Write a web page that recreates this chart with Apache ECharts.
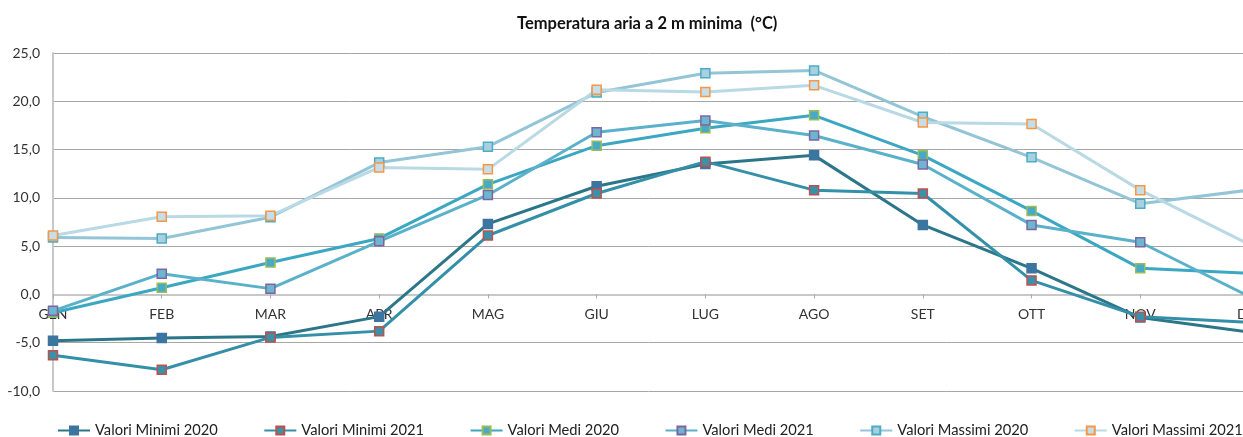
<!DOCTYPE html>
<html>
<head>
<meta charset="utf-8">
<script src="https://cdn.jsdelivr.net/npm/echarts@6/dist/echarts.min.js"></script>
<style>
html,body{margin:0;padding:0;background:#fff;}
#chart{width:1243px;height:437px;}
</style>
</head>
<body>
<div id="chart"></div>
<script>
const months = ['GEN','FEB','MAR','APR','MAG','GIU','LUG','AGO','SET','OTT','NOV','DIC'];
const minimi2020  = [-4.8, -4.5, -4.35, -2.3, 7.3, 11.2, 13.5, 14.4, 7.2, 2.7, -2.4, -3.9];
const minimi2021  = [-6.3, -7.8, -4.45, -3.8, 6.1, 10.45, 13.75, 10.8, 10.45, 1.45, -2.3, -2.9];
const medi2020    = [-1.9, 0.7, 3.3, 5.8, 11.4, 15.4, 17.2, 18.55, 14.4, 8.65, 2.7, 2.2];
const medi2021    = [-1.7, 2.15, 0.6, 5.5, 10.3, 16.8, 18.0, 16.45, 13.45, 7.2, 5.4, -0.2];
const massimi2020 = [5.9, 5.8, 8.0, 13.65, 15.3, 20.9, 22.9, 23.2, 18.4, 14.2, 9.4, 10.8];
const massimi2021 = [6.1, 8.05, 8.15, 13.15, 12.95, 21.2, 20.95, 21.65, 17.8, 17.65, 10.8, 5.2];
const seriesNames = ['Valori Minimi 2020','Valori Minimi 2021','Valori Medi 2020','Valori Medi 2021','Valori Massimi 2020','Valori Massimi 2021'];
const yTicks = {min: -10, max: 25, interval: 5};

const FONT = 'Lato, "Liberation Sans", sans-serif';
const styles = [
  {line:'#2c7689', fill:'#3a77a0', border:'#3f73a0'},
  {line:'#3490a8', fill:'#3792aa', border:'#c0504d'},
  {line:'#3ca7c2', fill:'#45abc6', border:'#9bbb59'},
  {line:'#5ab1ca', fill:'#6bb7d0', border:'#8064a2'},
  {line:'#93c5d7', fill:'#a8d0df', border:'#4bacc6'},
  {line:'#b9d9e4', fill:'#c6dee8', border:'#f79646'}
];
const datas = [minimi2020, minimi2021, medi2020, medi2021, massimi2020, massimi2021];

const GRID = {left: 53, top: 53, width: 1196, height: 338};
// place the category axis on the zero line of the value axis
const zeroOffset = -GRID.height * (0 - yTicks.min) / (yTicks.max - yTicks.min);

const chart = echarts.init(document.getElementById('chart'), null, {renderer:'canvas'});
chart.setOption({
  animation: false,
  backgroundColor: '#fff',
  title: {
    text: 'Temperatura aria a 2 m minima  (°C)',
    left: 512, top: 10,
    textStyle: {fontFamily: FONT, fontSize: 16.5, fontWeight: 'bold', color: '#111'}
  },
  legend: {
    top: 418,
    left: 52,
    width: 1190,
    padding: [5, 0, 5, 5],
    itemWidth: 32, itemHeight: 10, itemGap: 45.5,
    textStyle: {fontFamily: FONT, fontSize: 14.7, color: '#222'},
    data: seriesNames
  },
  grid: Object.assign({containLabel: false, outerBoundsMode: 'none'}, GRID),
  xAxis: {
    type: 'category',
    data: months,
    boundaryGap: false,
    offset: zeroOffset,
    axisLine: {onZero: false, lineStyle: {color: '#c8c8c8', width: 2}},
    axisTick: {show: true, length: 4, inside: false, lineStyle: {color: '#aaa'}},
    axisLabel: {fontFamily: FONT, fontSize: 14, color: '#333', margin: 13, interval: 0},
    splitLine: {show: false}
  },
  yAxis: {
    type: 'value',
    min: yTicks.min, max: yTicks.max, interval: yTicks.interval,
    axisLine: {show: true, lineStyle: {color: '#c8c8c8', width: 2}},
    axisTick: {show: false},
    axisLabel: {fontFamily: FONT, fontSize: 14, color: '#333', margin: 13,
      formatter: v => v.toFixed(1).replace('.', ',')},
    splitLine: {lineStyle: {color: '#a6a6a6', width: 1}}
  },
  series: datas.map((d, i) => ({
    name: seriesNames[i],
    type: 'line',
    data: d,
    symbol: 'rect',
    symbolSize: 9,
    showAllSymbol: true,
    lineStyle: {color: styles[i].line, width: 3},
    itemStyle: {color: styles[i].fill, borderColor: styles[i].border, borderWidth: 1.5},
    emphasis: {disabled: true}
  }))
});
</script>
</body>
</html>
